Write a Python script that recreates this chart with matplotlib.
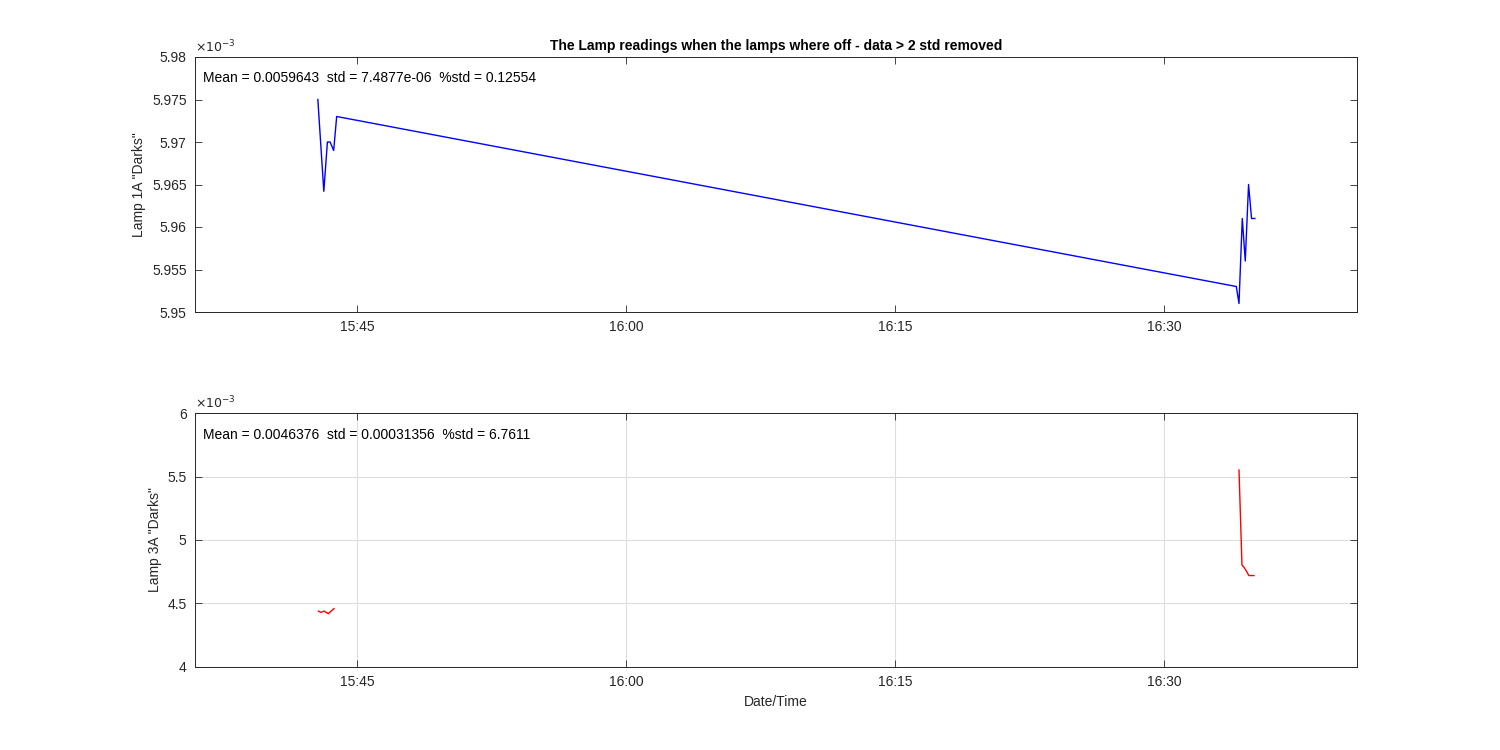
import matplotlib
matplotlib.use('Agg')
import matplotlib.pyplot as plt
import matplotlib.dates as mdates
from matplotlib.ticker import FuncFormatter, MultipleLocator
from datetime import datetime

plt.rcParams['font.family'] = ['Liberation Sans', 'DejaVu Sans']

# lamp 1A darks (times hh:mm:ss, values)
t1 = ['15:42:49', '15:43:09', '15:43:21', '15:43:30', '15:43:42', '15:43:52',
      '16:34:02', '16:34:11', '16:34:22', '16:34:32', '16:34:43', '16:34:53', '16:35:04']
v1 = [5.975e-3, 5.9642e-3, 5.970e-3, 5.970e-3, 5.969e-3, 5.973e-3,
      5.953e-3, 5.951e-3, 5.961e-3, 5.956e-3, 5.965e-3, 5.961e-3, 5.961e-3]

# lamp 3A darks (nan = removed readings, leaves a gap)
t3 = ['15:42:51', '15:42:59', '15:43:10', '15:43:24', '15:43:43', '16:00:00',
      '16:34:11', '16:34:21', '16:34:28', '16:34:37', '16:34:44', '16:35:01']
v3 = [4.44e-3, 4.43e-3, 4.44e-3, 4.42e-3, 4.46e-3, float('nan'),
      5.551e-3, 4.803e-3, 4.785e-3, 4.75e-3, 4.72e-3, 4.72e-3]

stats1 = 'Mean = 0.0059643  std = 7.4877e-06  %std = 0.12554'
stats3 = 'Mean = 0.0046376  std = 0.00031356  %std = 6.7611'

day = '2018-01-01 '
def to_dt(ts):
    return [datetime.strptime(day + s, '%Y-%m-%d %H:%M:%S') for s in ts]

x1 = to_dt(t1)
x3 = to_dt(t3)
xlim = to_dt(['15:35:58', '16:40:46'])

fig = plt.figure(figsize=(15, 7.5), dpi=100)
ax1 = fig.add_axes([0.13, 0.584, 0.7747, 0.340])
ax2 = fig.add_axes([0.13, 0.1107, 0.7747, 0.3386])

fmt = FuncFormatter(lambda v, p: '%g' % round(v * 1e3, 4))
tc = '#262626'

for ax in (ax1, ax2):
    ax.set_xlim(xlim)
    ax.xaxis.set_major_locator(mdates.MinuteLocator(byminute=[0, 15, 30, 45]))
    ax.xaxis.set_major_formatter(mdates.DateFormatter('%H:%M'))
    ax.yaxis.set_major_formatter(fmt)
    ax.tick_params(direction='in', length=5, width=0.6, colors=tc, labelsize=10,
                   top=True, right=True, pad=6)
    for s in ax.spines.values():
        s.set_color(tc)
        s.set_linewidth(0.7)
    ax.text(0, 1.005, r'$\times10^{-3}$', transform=ax.transAxes, fontsize=9,
            color=tc, ha='left', va='bottom')

ax1.plot(x1, v1, color='blue', lw=1)
ax1.set_ylim(5.95e-3, 5.98e-3)
ax1.yaxis.set_major_locator(MultipleLocator(0.005e-3))
ax1.set_ylabel('Lamp 1A "Darks"', fontsize=10, color=tc)
ax1.set_title('The Lamp readings when the lamps where off - data > 2 std removed',
              fontsize=10, fontweight='bold', pad=5)
ax1.text(0.007, 0.918, stats1, transform=ax1.transAxes, fontsize=10, va='center')

ax2.plot(x3, v3, color='red', lw=1)
ax2.set_ylim(4e-3, 6e-3)
ax2.yaxis.set_major_locator(MultipleLocator(0.5e-3))
ax2.grid(True, color='#dedede', lw=0.8)
ax2.set_axisbelow(True)
ax2.set_ylabel('Lamp 3A "Darks"', fontsize=10, color=tc)
ax2.set_xlabel('Date/Time', fontsize=10, color=tc)
ax2.text(0.007, 0.913, stats3, transform=ax2.transAxes, fontsize=10, va='center')

fig.savefig('out.png', dpi=100)
